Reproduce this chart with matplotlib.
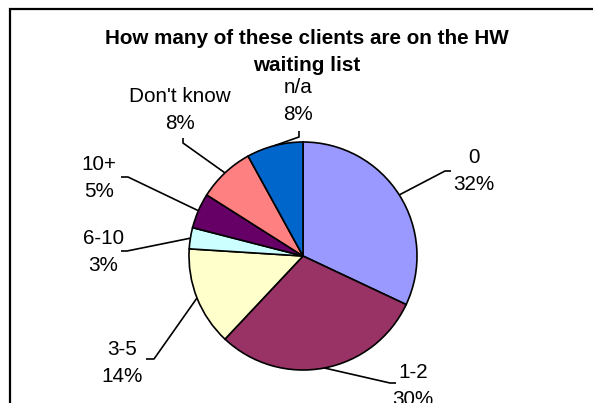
import numpy as np
import matplotlib.pyplot as plt

plt.rcParams['font.family'] = ['Liberation Sans', 'DejaVu Sans']

# Answers and their shares (%)
categories = ["0", "1-2", "3-5", "6-10", "10+", "Don't know", "n/a"]
shares = [32, 30, 14, 3, 5, 8, 8]
colors = ["#9999FF", "#993366", "#FFFFCC", "#CCFFFF", "#660066", "#FF8080", "#0066CC"]

W, H = 593, 403
fig = plt.figure(figsize=(W / 100, H / 100), dpi=100)
ax = fig.add_axes([0, 0, 1, 1])

# pie layout in pixel units (y measured upward)
cx, cy, r = 303, H - 256, 114

wedges, _ = ax.pie(shares, colors=colors, startangle=90, counterclock=False,
                   center=(cx, cy), radius=r, frame=True,
                   wedgeprops=dict(edgecolor='black', linewidth=1.2))
ax.set_xlim(0, W)
ax.set_ylim(0, H)
ax.set_aspect('auto')
ax.axis('off')

# label text centre, elbow of the leader, end of the leader (top-down pixel y)
label_layout = {
    "0":          ((474, 171), (445, 171), (451, 171)),
    "1-2":        ((413, 386), (390, 383), (396, 383)),
    "3-5":        ((122, 363), (154, 359), (146, 359)),
    "6-10":       ((103, 252), (127, 251), (121, 251)),
    "10+":        ((99, 178), (128, 177), (121, 177)),
    "Don't know": ((180, 110), (183, 143), (183, 138)),
    "n/a":        ((298, 101), (299, 137), (299, 131)),
}

for w, cat, val in zip(wedges, categories, shares):
    mid = np.deg2rad((w.theta1 + w.theta2) / 2)
    ex, ey = cx + r * np.cos(mid), cy + r * np.sin(mid)
    (tx, ty), (kx, ky), (lx, ly) = label_layout[cat]
    ax.plot([ex, kx, lx], [ey, H - ky, H - ly], color='black', lw=1.2,
            solid_capstyle='butt', zorder=3)
    ax.text(tx, H - ty, f"{cat}\n{val}%", ha='center', va='center',
            fontsize=14.9, linespacing=1.52, color='black')

ax.text(307, H - 52, "How many of these clients are on the HW\nwaiting list",
        ha='center', va='center', fontsize=14.9, fontweight='bold',
        linespacing=1.48)

# chart area border (runs off the right and bottom edges)
ax.plot([10, 10, W + 5], [-5, H - 9, H - 9], color='black', lw=1.6,
        solid_joinstyle='miter')

fig.savefig("out.png", dpi=100)
